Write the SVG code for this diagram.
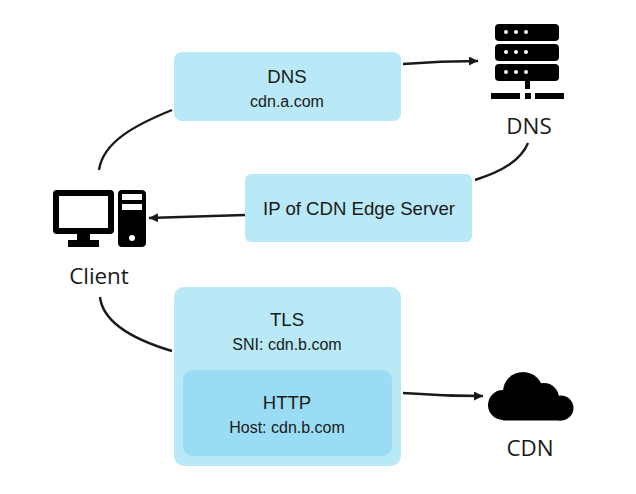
<svg xmlns="http://www.w3.org/2000/svg" width="636" height="494" viewBox="0 0 636 494">
<style>
.b{fill:#b9e8f6}
.i{fill:#9adcf3}
.c{fill:none;stroke:#1a1a1a;stroke-width:2.4}
.t{font-family:"Liberation Sans",Arial,sans-serif;text-anchor:middle;fill:#1a1a1a}
.l{font-size:18.6px}
.s{font-size:16px}
.n{font-family:"Open Sans","Noto Sans",sans-serif;font-size:22.4px;text-anchor:middle;fill:#1a1a1a}
.k{fill:#000}
.w{fill:#fff}
</style>
<defs>
<marker id="a" markerUnits="userSpaceOnUse" markerWidth="12" markerHeight="10" refX="9" refY="4.5" orient="auto"><path d="M0 0L9 4.5L0 9Z" fill="#1a1a1a"/></marker>
</defs>
<g id="connectors">
<path class="c" d="M403 64C428 62 452 61 478 61" marker-end="url(#a)"/>
<path class="c" d="M172 110C135 125 103 142 99 170"/>
<path class="c" d="M475 180C503 171 521 160 528 143"/>
<path class="c" d="M245 215C210 216 180 217 149 218" marker-end="url(#a)"/>
<path class="c" d="M100 297C103 323 135 340 172 351"/>
<path class="c" d="M403 393C430 395 455 396 483 396" marker-end="url(#a)"/>
</g>
<g id="dns-query">
<rect class="b" x="174" y="52" width="227" height="69" rx="8"/>
<text class="t l" x="287" y="83">DNS</text>
<text class="t s" x="287" y="107">cdn.a.com</text>
</g>
<g id="dns-response">
<rect class="b" x="245" y="174" width="227" height="68" rx="6"/>
<text class="t l" x="359" y="215">IP of CDN Edge Server</text>
</g>
<g id="tls">
<rect class="b" x="174" y="287" width="227" height="179" rx="10"/>
<text class="t l" x="287" y="326">TLS</text>
<text class="t s" x="287" y="350">SNI: cdn.b.com</text>
</g>
<g id="http">
<rect class="i" x="183" y="370" width="209" height="86" rx="10"/>
<text class="t l" x="287" y="409">HTTP</text>
<text class="t s" x="287" y="433">Host: cdn.b.com</text>
</g>
<g id="dns-server">
<rect class="k" x="495" y="24" width="64" height="17" rx="4"/>
<rect class="k" x="495" y="44" width="64" height="17" rx="4"/>
<rect class="k" x="495" y="64" width="64" height="17" rx="4"/>
<g class="w">
<circle cx="506" cy="32" r="2"/><circle cx="516" cy="32" r="2"/><circle cx="526" cy="32" r="2"/>
<circle cx="506" cy="52" r="2"/><circle cx="516" cy="52" r="2"/><circle cx="526" cy="52" r="2"/>
<circle cx="506" cy="72" r="2"/><circle cx="516" cy="72" r="2"/><circle cx="526" cy="72" r="2"/>
</g>
<rect class="k" x="525" y="81" width="5" height="8"/>
<rect class="k" x="491" y="93" width="29" height="6"/>
<rect class="k" x="525" y="93" width="6" height="6"/>
<rect class="k" x="535" y="93" width="29" height="6"/>
<text class="n" x="529" y="134">DNS</text>
</g>
<g id="client">
<path class="k" fill-rule="evenodd" d="M57 190H110Q114 190 114 194V230Q114 234 110 234H90V240H99V247H68V240H77V234H57Q53 234 53 230V194Q53 190 57 190ZM59 196V228H108V196Z"/>
<path class="k" fill-rule="evenodd" d="M122 190H141Q146 190 146 194V243Q146 247 141 247H122Q118 247 118 243V194Q118 190 122 190ZM122 194V200H142V194ZM122 204V210H142V204Z"/>
<circle class="w" cx="132" cy="238" r="3"/>
<text class="n" x="99" y="284">Client</text>
</g>
<g id="cdn">
<g class="k">
<circle cx="503" cy="405" r="15"/>
<circle cx="523" cy="392" r="20"/>
<circle cx="544" cy="398" r="15"/>
<circle cx="561" cy="408" r="12.5"/>
<rect x="503" y="400" width="58" height="20.5"/>
</g>
<text class="n" x="530" y="456">CDN</text>
</g>
</svg>
